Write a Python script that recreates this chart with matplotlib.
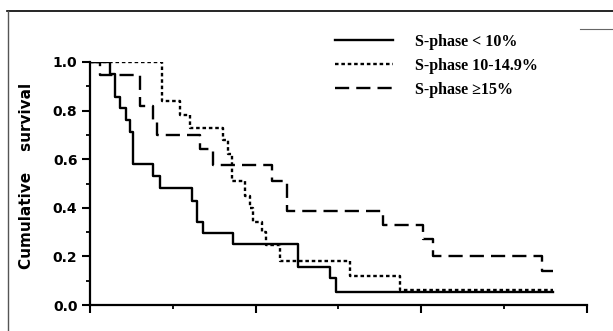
import numpy as np
import matplotlib
matplotlib.use("Agg")
import matplotlib.pyplot as plt
from matplotlib.ticker import MultipleLocator, FormatStrFormatter

# ============================================
# Kaplan-Meier step data
# ============================================

# S-phase < 10%
low_t = [0, 0.24, 0.30, 0.36, 0.43, 0.48, 0.52, 0.76, 0.85, 1.23, 1.29, 1.36, 1.73, 2.51, 2.90, 2.97, 5.59]
low_s = [1.0, 0.952, 0.857, 0.810, 0.762, 0.714, 0.580, 0.530, 0.482, 0.430, 0.340, 0.296, 0.250, 0.157, 0.110, 0.053, 0.053]

# S-phase 10-14.9%
mid_t = [0, 0.87, 1.09, 1.21, 1.61, 1.67, 1.71, 1.87, 1.93, 1.97, 2.08, 2.13, 2.29, 3.14, 3.74, 5.59]
mid_s = [1.0, 0.84, 0.78, 0.73, 0.68, 0.62, 0.51, 0.45, 0.40, 0.34, 0.30, 0.245, 0.18, 0.12, 0.06, 0.06]

# S-phase >= 15%
high_t = [0, 0.12, 0.60, 0.76, 0.81, 1.33, 1.49, 2.20, 2.38, 3.54, 4.02, 4.14, 5.46, 5.59]
high_s = [1.0, 0.946, 0.82, 0.76, 0.70, 0.64, 0.576, 0.51, 0.387, 0.33, 0.27, 0.20, 0.14, 0.14]

labels = ["S-phase < 10%", "S-phase 10-14.9%", "S-phase \u226515%"]

# ============================================
# Figure
# ============================================

fig = plt.figure(figsize=(6.13, 3.31), dpi=100)
ax = fig.add_axes([0.1468, 0.0785, 0.8108, 0.7342])

ax.step(low_t, low_s, where="post", color="black", lw=1.7, label=labels[0])
ax.step(mid_t, mid_s, where="post", color="black", lw=1.7,
        linestyle=(0, (1.5, 1.2)), label=labels[1])
ax.step(high_t, high_s, where="post", color="black", lw=1.7,
        linestyle=(0, (6, 3)), label=labels[2])

ax.set_xlim(0, 6)
ax.set_ylim(0, 1.0)

ax.spines["top"].set_visible(False)
ax.spines["right"].set_visible(False)
ax.spines["left"].set_linewidth(1.6)
ax.spines["bottom"].set_linewidth(1.6)

ax.xaxis.set_major_locator(MultipleLocator(2))
ax.xaxis.set_minor_locator(MultipleLocator(1))
ax.yaxis.set_major_locator(MultipleLocator(0.2))
ax.yaxis.set_minor_locator(MultipleLocator(0.1))
ax.yaxis.set_major_formatter(FormatStrFormatter("%.1f"))
ax.set_xticklabels([])

ax.tick_params(axis="both", which="major", length=6, width=1.5, direction="out")
ax.tick_params(axis="both", which="minor", length=3, width=1.3, direction="out")
ax.tick_params(axis="y", labelsize=10, pad=3)
for t in ax.get_yticklabels():
    t.set_fontweight("bold")

ax.set_ylabel("Cumulative    survival", fontsize=11, fontweight="bold")
ax.yaxis.set_label_coords(-0.112, 0.53)

leg = ax.legend(loc="upper left", bbox_to_anchor=(0.465, 1.175), frameon=False,
                handlelength=3.6, handletextpad=1.4, labelspacing=0.5,
                prop={"family": "Liberation Serif", "weight": "bold", "size": 11.5})

# border lines of the scanned figure
fig.add_artist(plt.Line2D([7 / 613, 1], [1 - 11 / 331, 1 - 11 / 331],
                          transform=fig.transFigure, color="black", lw=1.2))
fig.add_artist(plt.Line2D([7.5 / 613, 7.5 / 613], [0, 1 - 11 / 331],
                          transform=fig.transFigure, color="#555555", lw=1.0))
fig.add_artist(plt.Line2D([580 / 613, 1], [1 - 29 / 331, 1 - 29 / 331],
                          transform=fig.transFigure, color="#666666", lw=0.8))

fig.savefig("out.png", dpi=100)
